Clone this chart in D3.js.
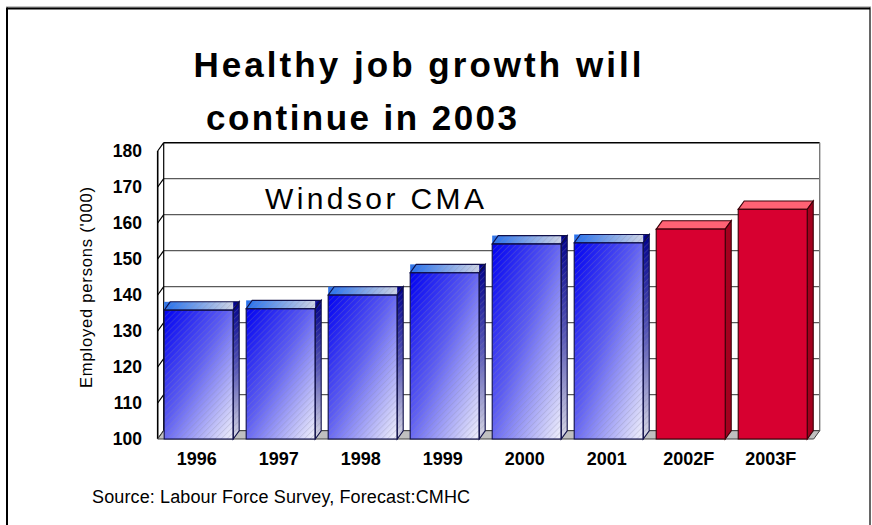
<!DOCTYPE html>
<html>
<head>
<meta charset="utf-8">
<script src="https://cdn.jsdelivr.net/npm/d3@7/dist/d3.min.js"></script>
<style>
  html, body { margin: 0; padding: 0; background: #fff; }
  svg { display: block; }
  text { font-family: "Liberation Sans", Arial, sans-serif; fill: #000; }
</style>
</head>
<body>
<svg id="chart" width="872" height="525"></svg>
<script>
// Employment, Windsor CMA (thousands of persons)
const years = ["1996", "1997", "1998", "1999", "2000", "2001", "2002F", "2003F"];
const employed = [135.8, 136.2, 140.0, 146.2, 154.2, 154.5, 158.3, 163.8];
const forecast = [false, false, false, false, false, false, true, true];
const yTicks = [100, 110, 120, 130, 140, 150, 160, 170, 180];
const titleLines = ["Healthy job growth will", "continue in 2003"];
const subtitle = "Windsor CMA";
const yTitle = "Employed persons ('000)";
const sourceNote = "Source: Labour Force Survey, Forecast:CMHC";

const svg = d3.select("#chart");
const defs = svg.append("defs");

// Page frame
svg.append("line").attr("x1", 6).attr("x2", 871).attr("y1", 7).attr("y2", 7).attr("stroke", "#888").attr("stroke-width", 1);
svg.append("line").attr("x1", 7).attr("x2", 870).attr("y1", 8.5).attr("y2", 8.5).attr("stroke", "#000").attr("stroke-width", 2);
svg.append("line").attr("x1", 7).attr("x2", 7).attr("y1", 7.5).attr("y2", 525).attr("stroke", "#000").attr("stroke-width", 2);
svg.append("line").attr("x1", 870).attr("x2", 870).attr("y1", 7.5).attr("y2", 525).attr("stroke", "#000").attr("stroke-width", 1.2);

// 3-D geometry: front plane scales and depth offset of the back wall
const depth = { dx: 6, dy: -8.3 };
const x = d3.scaleBand().domain(years).range([157.7, 813.7]).paddingInner(0.1585).paddingOuter(0.079);
const y = d3.scaleLinear().domain([100, 180]).range([439, 151]);
const [yMin, yMax] = y.domain();
const xL = x.range()[0], xR = x.range()[1];

// Gradients and hatching
const hatch = defs.append("pattern").attr("id", "hatch")
  .attr("patternUnits", "userSpaceOnUse").attr("width", 4.2).attr("height", 4.2)
  .attr("patternTransform", "rotate(45)");
hatch.append("line").attr("x1", 0.5).attr("x2", 0.5).attr("y1", 0).attr("y2", 4.2)
  .attr("stroke", "#8c8ca4").attr("stroke-opacity", 0.32).attr("stroke-width", 0.8);

function grad(id, x2, y2, stops) {
  const g = defs.append("linearGradient").attr("id", id)
    .attr("x1", 0).attr("y1", 0).attr("x2", x2).attr("y2", y2);
  stops.forEach(([o, c]) => g.append("stop").attr("offset", o).attr("stop-color", c));
}
grad("blueFront", 1, 1, [[0, "#0000f2"], [0.45, "#5c5cf2"], [1, "#f2f2fb"]]);
grad("blueTop", 1, 0, [[0, "#2470ee"], [1, "#dcdce4"]]);
grad("blueSide", 0, 1, [[0, "#00008c"], [0.5, "#5a5ab8"], [1, "#d8d8e4"]]);

// Back wall gridlines
const g = svg.append("g");
g.selectAll("line.grid").data(yTicks).join("line").attr("class", "grid")
  .attr("x1", xL + depth.dx).attr("x2", xR + depth.dx)
  .attr("y1", d => y(d) + depth.dy).attr("y2", d => y(d) + depth.dy)
  .attr("stroke", d => d === yMax ? "#000" : "#5a5a5a").attr("stroke-width", d => d === yMax ? 1.4 : 1.3);

// Left wall: edges and slanted gridline ends
g.selectAll("line.wall").data(yTicks).join("line").attr("class", "wall")
  .attr("x1", xL).attr("x2", xL + depth.dx)
  .attr("y1", d => y(d)).attr("y2", d => y(d) + depth.dy)
  .attr("stroke", "#000").attr("stroke-width", 1.2);
g.append("line").attr("x1", xL).attr("x2", xL).attr("y1", y(yMax)).attr("y2", y(yMin))
  .attr("stroke", "#000").attr("stroke-width", 1.6);
g.append("line").attr("x1", xL + depth.dx).attr("x2", xL + depth.dx)
  .attr("y1", y(yMax) + depth.dy).attr("y2", y(yMin) + depth.dy)
  .attr("stroke", "#000").attr("stroke-width", 1.2);
g.append("line").attr("x1", xR + depth.dx).attr("x2", xR + depth.dx)
  .attr("y1", y(yMax) + depth.dy).attr("y2", y(yMin) + depth.dy)
  .attr("stroke", "#7a7a7a").attr("stroke-width", 1.4);

// Floor
const pts = a => a.map(p => p.join(",")).join(" ");
g.append("polygon")
  .attr("points", pts([[xL, y(yMin)], [xR, y(yMin)], [xR + depth.dx, y(yMin) + depth.dy], [xL + depth.dx, y(yMin) + depth.dy]]))
  .attr("fill", "#c0c0c0").attr("stroke", "#404040").attr("stroke-width", 1);

// Bars
const bw = x.bandwidth();
const bars = svg.append("g").selectAll("g").data(years.map((yr, i) => ({ yr, v: employed[i], f: forecast[i] })))
  .join("g");

bars.each(function (d) {
  const s = d3.select(this);
  const x0 = x(d.yr), x1 = x0 + bw, yt = y(d.v), yb = y(yMin);
  const dx = depth.dx, dy = depth.dy;
  const topFace = [[x0, yt], [x1, yt], [x1 + dx, yt + dy], [x0 + dx, yt + dy]];
  const sideFace = [[x1, yt], [x1 + dx, yt + dy], [x1 + dx, yb + dy], [x1, yb]];
  if (!d.f) {
    // gradient faces fill their bounding boxes at the top corners
    s.append("rect").attr("x", x0).attr("y", yt + dy).attr("width", bw + dx).attr("height", -dy)
      .attr("fill", "url(#blueTop)");
    s.append("rect").attr("x", x0).attr("y", yt + dy).attr("width", bw + dx).attr("height", -dy)
      .attr("fill", "url(#hatch)");
    const sideBox = [[x1, yt + dy], [x1 + dx, yt + dy], [x1 + dx, yb + dy], [x1, yb]];
    s.append("polygon").attr("points", pts(sideBox)).attr("fill", "url(#blueSide)");
    s.append("polygon").attr("points", pts(sideBox)).attr("fill", "url(#hatch)");
    s.append("rect").attr("x", x0).attr("y", yt).attr("width", bw).attr("height", yb - yt)
      .attr("fill", "url(#blueFront)");
    s.append("rect").attr("x", x0).attr("y", yt).attr("width", bw).attr("height", yb - yt)
      .attr("fill", "url(#hatch)");
    [topFace, sideFace].forEach(f => s.append("polygon").attr("points", pts(f))
      .attr("fill", "none").attr("stroke", "#10104a").attr("stroke-width", 1.1));
    s.append("rect").attr("x", x0).attr("y", yt).attr("width", bw).attr("height", yb - yt)
      .attr("fill", "none").attr("stroke", "#10104a").attr("stroke-width", 1.1);
  } else {
    s.append("polygon").attr("points", pts(topFace)).attr("fill", "#ff6274")
      .attr("stroke", "#3a0008").attr("stroke-width", 1.1);
    s.append("polygon").attr("points", pts(sideFace)).attr("fill", "#a3001e")
      .attr("stroke", "#3a0008").attr("stroke-width", 1.1);
    s.append("rect").attr("x", x0).attr("y", yt).attr("width", bw).attr("height", yb - yt)
      .attr("fill", "#d70030").attr("stroke", "#3a0008").attr("stroke-width", 1.1);
  }
});

// Axis labels
svg.append("g").selectAll("text").data(yTicks).join("text")
  .attr("x", 142).attr("y", d => y(d) + 6)
  .attr("text-anchor", "end").attr("font-size", 17.5).attr("font-weight", "bold")
  .text(d => d);

svg.append("g").selectAll("text").data(years).join("text")
  .attr("x", d => x(d) + bw / 2 - 2).attr("y", 465)
  .attr("text-anchor", "middle").attr("font-size", 18).attr("font-weight", "bold")
  .text(d => d);

svg.append("text")
  .attr("transform", "translate(92,287.5) rotate(-90)")
  .attr("text-anchor", "middle").attr("font-size", 16.5)
  .attr("textLength", 201).attr("lengthAdjust", "spacing")
  .text(yTitle);

// Titles and notes
svg.append("text").attr("x", 193.5).attr("y", 76.7)
  .attr("font-size", 35).attr("font-weight", "bold")
  .attr("textLength", 448).attr("lengthAdjust", "spacing")
  .text(titleLines[0]);
svg.append("text").attr("x", 206).attr("y", 130)
  .attr("font-size", 35).attr("font-weight", "bold")
  .attr("textLength", 311).attr("lengthAdjust", "spacing")
  .text(titleLines[1]);

svg.append("text").attr("x", 265).attr("y", 209.3)
  .attr("font-size", 30).attr("textLength", 219).attr("lengthAdjust", "spacing")
  .text(subtitle);

svg.append("text").attr("x", 92).attr("y", 502.7)
  .attr("font-size", 18).attr("textLength", 378).attr("lengthAdjust", "spacing")
  .text(sourceNote);
</script>
</body>
</html>
